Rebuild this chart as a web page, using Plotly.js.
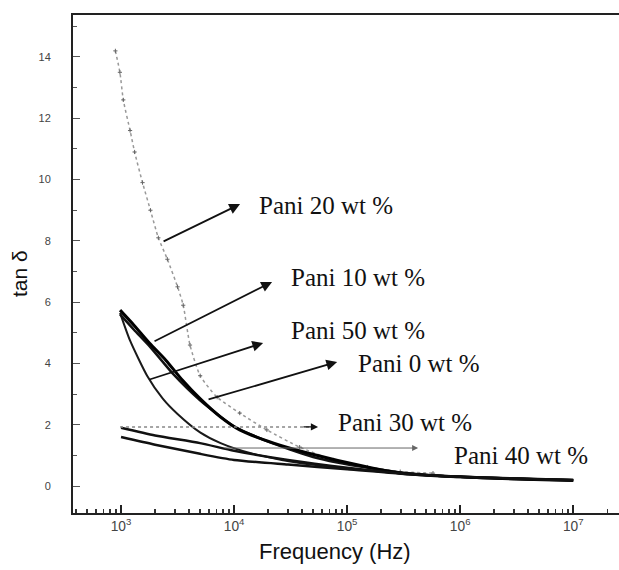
<!DOCTYPE html>
<html>
<head>
<meta charset="utf-8">
<script src="https://cdn.plot.ly/plotly-3.0.1.min.js"></script>
<style>html,body{margin:0;padding:0;background:#fff;}#chart{width:619px;height:570px;}</style>
</head>
<body>
<div id="chart"></div>
<script>
// Frequency (Hz) and tan delta values
const freqPani20 = [891, 977, 1047, 1202, 1318, 1549, 1820, 2138, 2570, 3162, 3548, 4074, 5012, 7079, 11220, 19500, 38000, 75900, 151000, 295000, 575000];
const tanPani20  = [14.2, 13.5, 12.6, 11.6, 10.9, 9.9, 9.0, 8.1, 7.4, 6.5, 5.9, 4.6, 3.6, 2.9, 2.38, 1.83, 1.27, 0.85, 0.62, 0.47, 0.42];

const freqPani10 = [980, 1300, 1800, 2500, 3500, 5000, 7600, 11200, 22400, 44700, 151000, 295000, 1000000, 3000000, 10000000];
const tanPani10  = [5.74, 5.25, 4.65, 4.1, 3.45, 2.85, 2.25, 1.83, 1.4, 1.08, 0.62, 0.42, 0.3, 0.23, 0.18];

const freqPani0 = [980, 1300, 1800, 2900, 5000, 10000, 20000, 50000, 150000, 500000, 2000000, 10000000];
const tanPani0  = [5.6, 5.1, 4.55, 3.65, 2.8, 1.95, 1.45, 0.95, 0.6, 0.36, 0.25, 0.2];

const freqPani50 = [980, 1200, 1700, 2340, 3160, 5000, 7600, 13800, 38000, 295000, 1000000, 10000000];
const tanPani50  = [5.65, 4.75, 3.6, 2.85, 2.35, 1.75, 1.4, 1.08, 0.75, 0.42, 0.3, 0.2];

const freqPani30 = [1000, 2000, 5000, 10000, 30000, 100000, 300000, 1000000, 10000000];
const tanPani30  = [1.9, 1.65, 1.4, 1.15, 0.85, 0.6, 0.42, 0.3, 0.2];

const freqPani40 = [1000, 2000, 5000, 10000, 30000, 100000, 300000, 1000000, 10000000];
const tanPani40  = [1.6, 1.35, 1.05, 0.85, 0.7, 0.55, 0.4, 0.3, 0.18];

// Label texts
const labelTexts = ["Pani 20 wt %", "Pani 10 wt %", "Pani 50 wt %", "Pani 0 wt %", "Pani 30 wt %", "Pani 40 wt %"];

const sm = 0.6;
const traces = [
  {x: freqPani20, y: tanPani20, mode: 'lines+markers', line: {color: '#999', width: 1.5, dash: 'dot', shape: 'spline', smoothing: sm}, marker: {color: '#666', size: 3, symbol: 'cross-thin-open', line: {color: '#666', width: 1}}},
  {x: freqPani50, y: tanPani50, mode: 'lines', line: {color: '#1a1a1a', width: 2, shape: 'spline', smoothing: sm}},
  {x: freqPani0, y: tanPani0, mode: 'lines', line: {color: '#111', width: 2.5, shape: 'spline', smoothing: sm}},
  {x: freqPani10, y: tanPani10, mode: 'lines', line: {color: '#000', width: 3, shape: 'spline', smoothing: sm}},
  {x: freqPani30, y: tanPani30, mode: 'lines', line: {color: '#111', width: 2.5, shape: 'spline', smoothing: sm}},
  {x: freqPani40, y: tanPani40, mode: 'lines', line: {color: '#111', width: 2.5, shape: 'spline', smoothing: sm}}
];

const labelFont = {family: 'Liberation Serif, Times New Roman, serif', size: 25, color: '#111'};

function arrow(hx, hy, tx, ty, color, width) {
  return {x: hx, y: hy, ax: tx, ay: ty, xref: 'x', yref: 'y', axref: 'x', ayref: 'y',
          showarrow: true, arrowhead: 2, arrowsize: 1.2, arrowwidth: width, arrowcolor: color, text: ''};
}
function label(x, y, t) {
  return {x: x, y: y, xref: 'x', yref: 'y', text: t, showarrow: false, xanchor: 'left', yanchor: 'middle', font: labelFont};
}

const annotations = [
  arrow(4.053, 9.20, 3.363, 7.96, '#111', 1.8),
  arrow(4.336, 6.66, 3.283, 4.70, '#111', 1.8),
  arrow(4.257, 4.67, 3.239, 3.46, '#111', 1.8),
  arrow(4.912, 4.05, 3.761, 2.81, '#111', 1.8),
  arrow(4.743, 1.93, 4.60, 1.93, '#111', 1.2),
  arrow(5.628, 1.24, 3.903, 1.24, '#666', 1),
  label(4.20, 9.17, labelTexts[0]),
  label(4.49, 6.79, labelTexts[1]),
  label(4.49, 5.09, labelTexts[2]),
  label(5.075, 4.01, labelTexts[3]),
  label(4.90, 2.06, labelTexts[4]),
  label(5.925, 1.01, labelTexts[5]),
  {x: 0.48, y: -0.078, xref: 'paper', yref: 'paper', text: 'Frequency (Hz)', showarrow: false,
   xanchor: 'center', yanchor: 'middle', font: {family: 'Liberation Sans, Arial, sans-serif', size: 22, color: '#111'}},
  {x: -0.097, y: 0.48, xref: 'paper', yref: 'paper', text: 'tan δ', showarrow: false, textangle: -90,
   xanchor: 'center', yanchor: 'middle', font: {family: 'Liberation Sans, Arial, sans-serif', size: 21, color: '#111'}}
];

// Dotted arrow shaft for "Pani 30 wt %" (shapes on a log axis use Hz values)
const shapes = [
  {type: 'line', xref: 'x', yref: 'y', x0: 980, y0: 1.93, x1: 50000, y1: 1.93, line: {color: '#888', width: 1.5, dash: 'dot'}}
];

const layout = {
  width: 619, height: 570,
  margin: {l: 73, r: 0, t: 15, b: 57},
  paper_bgcolor: '#fff', plot_bgcolor: '#fff',
  showlegend: false,
  xaxis: {
    type: 'log', range: [2.575, 7.405], dtick: 1, exponentformat: 'power',
    showline: true, linecolor: '#222', linewidth: 2, mirror: true,
    showgrid: false, zeroline: false,
    ticks: 'inside', ticklen: 8, tickcolor: '#222', tickwidth: 1.5,
    minor: {dtick: 'D1', ticks: 'inside', ticklen: 4, tickcolor: '#333', showgrid: false},
    tickfont: {family: 'Liberation Sans, Arial, sans-serif', size: 11, color: '#444'}
  },
  yaxis: {
    range: [-0.88, 15.37], dtick: 2, tick0: 0,
    showline: true, linecolor: '#222', linewidth: 2, mirror: false,
    showgrid: false, zeroline: false,
    ticks: 'inside', ticklen: 7, tickcolor: '#555', tickwidth: 1,
    minor: {dtick: 1, ticks: 'inside', ticklen: 4, tickcolor: '#555', showgrid: false},
    ticklabelstandoff: 18,
    tickfont: {family: 'Liberation Sans, Arial, sans-serif', size: 11, color: '#444'}
  },
  annotations: annotations,
  shapes: shapes
};

Plotly.newPlot('chart', traces, layout, {displayModeBar: false, staticPlot: true});
</script>
</body>
</html>
